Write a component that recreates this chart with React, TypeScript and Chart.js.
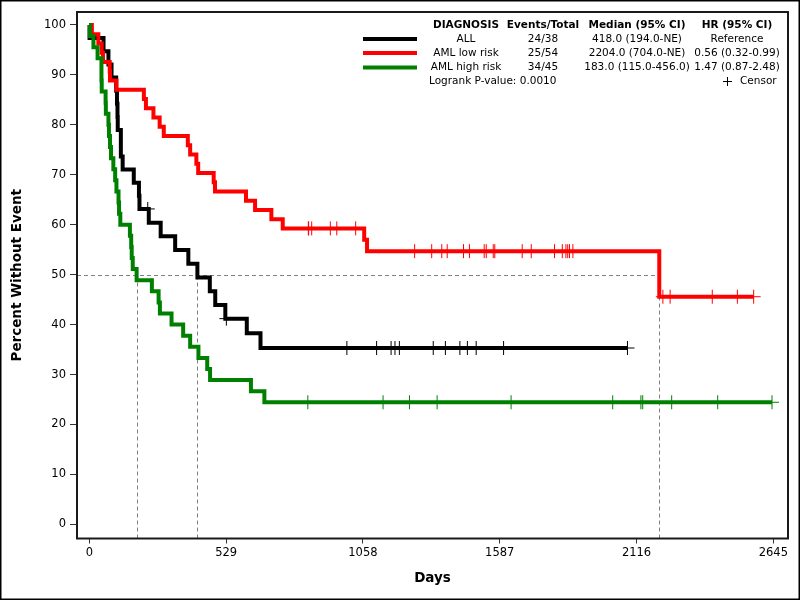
import { useEffect, useRef } from 'react';
import { Chart, registerables } from 'chart.js';

Chart.register(...registerables);

// ---- Data ----
const groupNames = ['ALL', 'AML low risk', 'AML high risk'];
const groupColors = ['#000000', '#ff0000', '#008000'];
const eventsTotal = ['24/38', '25/54', '34/45'];
const medianCI = ['418.0 (194.0-NE)', '2204.0 (704.0-NE)', '183.0 (115.0-456.0)'];
const hrCI = ['Reference', '0.56 (0.32-0.99)', '1.47 (0.87-2.48)'];
const tableHeaders = ['DIAGNOSIS', 'Events/Total', 'Median (95% CI)', 'HR (95% CI)'];
const logrankText = 'Logrank P-value: 0.0010';
const censorLabel = 'Censor';

// Kaplan-Meier step values (time in days, percent without event)
const allTimes = [0, 1, 55, 74, 86, 104, 107, 109, 110, 122, 129, 172, 192, 194, 230, 276, 332, 383, 418, 466, 487, 526, 609, 662];
const allSurv = [100, 97.37, 94.74, 92.11, 89.47, 86.84, 84.21, 81.58, 78.95, 73.68, 71.05, 68.42, 65.79, 63.16, 60.41, 57.67, 54.92, 52.17, 49.43, 46.68, 43.94, 41.19, 38.25, 35.31];
const allCensor = [226, 530, 996, 1111, 1167, 1182, 1199, 1330, 1377, 1433, 1462, 1496, 1602, 2081];

const lowTimes = [0, 10, 35, 48, 53, 79, 80, 105, 211, 219, 248, 272, 288, 381, 390, 414, 421, 481, 486, 606, 641, 704, 748, 1063, 1074, 2204];
const lowSurv = [100, 98.15, 96.3, 94.44, 92.59, 90.74, 88.89, 87.04, 85.19, 83.33, 81.48, 79.63, 77.78, 75.93, 74.07, 72.22, 70.37, 68.52, 66.67, 64.81, 62.96, 61.11, 59.26, 56.98, 54.7, 45.58];
const lowCensor = [847, 848, 860, 932, 957, 1030, 1258, 1324, 1363, 1384, 1447, 1470, 1527, 1535, 1562, 1568, 1674, 1709, 1799, 1829, 1843, 1850, 1857, 1870, 2218, 2246, 2409, 2506, 2569];

const highTimes = [0, 2, 16, 32, 47, 48, 63, 64, 74, 76, 80, 84, 93, 100, 105, 113, 115, 120, 157, 162, 164, 168, 183, 242, 268, 273, 318, 363, 390, 422, 456, 467, 625, 677];
const highSurv = [100, 97.78, 95.56, 93.33, 88.89, 86.67, 84.44, 82.22, 80.0, 77.78, 75.56, 73.33, 71.11, 68.89, 66.67, 64.44, 62.22, 60.0, 57.78, 55.56, 53.33, 51.11, 48.89, 46.67, 44.44, 42.22, 40.0, 37.78, 35.56, 33.33, 31.11, 28.89, 26.67, 24.44];
const highCensor = [845, 1136, 1238, 1345, 1631, 2024, 2133, 2140, 2252, 2430, 2640];

const medianDays = [418, 2204, 183];
const medianLevel = 50;

const xTicks = [0, 529, 1058, 1587, 2116, 2645];
const yTicks = [0, 10, 20, 30, 40, 50, 60, 70, 80, 90, 100];
const xTitle = 'Days';
const yTitle = 'Percent Without Event';

// ---- helpers ----
type Pt = { x: number; y: number };
function stepPoints(times: number[], surv: number[], censor: number[]): Pt[] {
  const pts = times.map((t, i) => ({ x: t, y: surv[i] }));
  const lastC = Math.max(...censor);
  if (lastC > times[times.length - 1]) pts.push({ x: lastC, y: surv[surv.length - 1] });
  return pts;
}
function survAt(times: number[], surv: number[], t: number): number {
  let s = surv[0];
  for (let i = 0; i < times.length; i++) if (times[i] <= t) s = surv[i];
  return s;
}
function censorPoints(times: number[], surv: number[], censor: number[]): Pt[] {
  return censor.map((c) => ({ x: c, y: survAt(times, surv, c) }));
}

const groups = [
  { times: allTimes, surv: allSurv, censor: allCensor },
  { times: lowTimes, surv: lowSurv, censor: lowCensor },
  { times: highTimes, surv: highSurv, censor: highCensor },
];

const FONT = '"DejaVu Sans", sans-serif';

const customPlugin = {
  id: 'kmExtras',
  beforeDatasetsDraw(chart: any) {
    const { ctx, chartArea: a, scales } = chart;
    const xs = scales.x, ys = scales.y;
    ctx.save();
    ctx.strokeStyle = '#808080';
    ctx.lineWidth = 1;
    ctx.setLineDash([4, 3]);
    const y50 = Math.round(ys.getPixelForValue(medianLevel)) + 0.5;
    const xMax = xs.getPixelForValue(Math.max(...medianDays));
    ctx.beginPath();
    ctx.moveTo(a.left, y50);
    ctx.lineTo(xMax, y50);
    ctx.stroke();
    for (const m of medianDays) {
      const px = Math.round(xs.getPixelForValue(m)) + 0.5;
      ctx.beginPath();
      ctx.moveTo(px, y50);
      ctx.lineTo(px, a.bottom);
      ctx.stroke();
    }
    ctx.restore();
  },
  afterDraw(chart: any) {
    const { ctx, chartArea: a } = chart;
    ctx.save();
    // plot frame
    ctx.strokeStyle = '#1a1a1a';
    ctx.lineWidth = 2;
    ctx.strokeRect(a.left, a.top, a.right - a.left, a.bottom - a.top);
    // outer border
    ctx.strokeStyle = '#000';
    ctx.lineWidth = 1.5;
    ctx.strokeRect(0.75, 0.75, chart.width - 1.5, chart.height - 1.5);

    // axis titles
    ctx.fillStyle = '#000';
    ctx.font = `bold 13.5px ${FONT}`;
    ctx.textAlign = 'center';
    ctx.textBaseline = 'alphabetic';
    ctx.fillText(xTitle, (a.left + a.right) / 2, 582);
    ctx.save();
    ctx.translate(20.5, (a.top + a.bottom) / 2);
    ctx.rotate(-Math.PI / 2);
    ctx.fillText(yTitle, 0, 0);
    ctx.restore();

    // legend table
    const colX = [466, 543, 637, 737];
    const headerY = 25;
    const rowY = [39, 53, 67.5];
    ctx.textBaseline = 'middle';
    ctx.textAlign = 'center';
    ctx.font = `bold 10.5px ${FONT}`;
    tableHeaders.forEach((h, i) => ctx.fillText(h, colX[i], headerY));
    ctx.font = `10.5px ${FONT}`;
    for (let r = 0; r < groupNames.length; r++) {
      ctx.fillText(groupNames[r], colX[0], rowY[r]);
      ctx.fillText(eventsTotal[r], colX[1], rowY[r]);
      ctx.fillText(medianCI[r], colX[2], rowY[r]);
      ctx.fillText(hrCI[r], colX[3], rowY[r]);
      ctx.strokeStyle = groupColors[r];
      ctx.lineWidth = 4;
      ctx.beginPath();
      ctx.moveTo(363, rowY[r]);
      ctx.lineTo(417, rowY[r]);
      ctx.stroke();
    }
    ctx.textAlign = 'left';
    ctx.fillText(logrankText, 429, 81);
    ctx.fillText(censorLabel, 740, 81);
    ctx.strokeStyle = '#000';
    ctx.lineWidth = 1;
    ctx.beginPath();
    ctx.moveTo(723, 81.5);
    ctx.lineTo(732, 81.5);
    ctx.moveTo(727.5, 77);
    ctx.lineTo(727.5, 86);
    ctx.stroke();
    ctx.restore();
  },
};

export default function App() {
  const ref = useRef<HTMLCanvasElement>(null);
  useEffect(() => {
    const lineOrders = [3, 2, 1];
    const datasets: any[] = [];
    groups.forEach((g, i) => {
      datasets.push({
        label: groupNames[i],
        data: stepPoints(g.times, g.surv, g.censor),
        borderColor: groupColors[i],
        backgroundColor: groupColors[i],
        borderWidth: 4,
        stepped: 'before',
        pointRadius: 0,
        fill: false,
        order: lineOrders[i],
      });
    });
    groups.forEach((g, i) => {
      datasets.push({
        label: groupNames[i] + ' censored',
        data: censorPoints(g.times, g.surv, g.censor),
        showLine: false,
        pointStyle: 'cross',
        pointRadius: 7,
        pointBorderWidth: 1,
        pointBorderColor: groupColors[i],
        pointBackgroundColor: groupColors[i],
        order: 0,
      });
    });

    const chart = new Chart(ref.current as HTMLCanvasElement, {
      type: 'line',
      data: { datasets },
      options: {
        animation: false,
        responsive: false,
        devicePixelRatio: 1,
        layout: { padding: { top: 12, right: 12, left: 0, bottom: 0 } },
        plugins: { legend: { display: false }, tooltip: { enabled: false } },
        scales: {
          x: {
            type: 'linear',
            min: -47.56,
            max: 2701.8,
            afterBuildTicks: (s: any) => {
              s.ticks = xTicks.map((v) => ({ value: v }));
            },
            afterFit: (s: any) => {
              s.height = 61.5;
            },
            ticks: {
              callback: (v: any) => String(v),
              font: { family: FONT, size: 11.5 },
              color: '#000',
              padding: 3,
              maxRotation: 0,
              autoSkip: false,
            },
            grid: { display: true, drawOnChartArea: false, drawTicks: true, tickLength: 5, color: '#333' },
            border: { display: false },
          },
          y: {
            type: 'linear',
            min: -2.84,
            max: 102.6,
            afterBuildTicks: (s: any) => {
              s.ticks = yTicks.map((v) => ({ value: v }));
            },
            afterFit: (s: any) => {
              s.width = 77;
            },
            ticks: {
              callback: (v: any) => String(v),
              font: { family: FONT, size: 11.5 },
              color: '#000',
              padding: 4,
              autoSkip: false,
            },
            grid: { display: true, drawOnChartArea: false, drawTicks: true, tickLength: 7, color: '#333' },
            border: { display: false },
          },
        },
      },
      plugins: [customPlugin],
    } as any);
    return () => chart.destroy();
  }, []);
  return (
    <div style={{ position: 'absolute', left: 0, top: 0, width: 800, height: 600, background: '#fff' }}>
      <canvas ref={ref} width={800} height={600} style={{ display: 'block' }} />
    </div>
  );
}
